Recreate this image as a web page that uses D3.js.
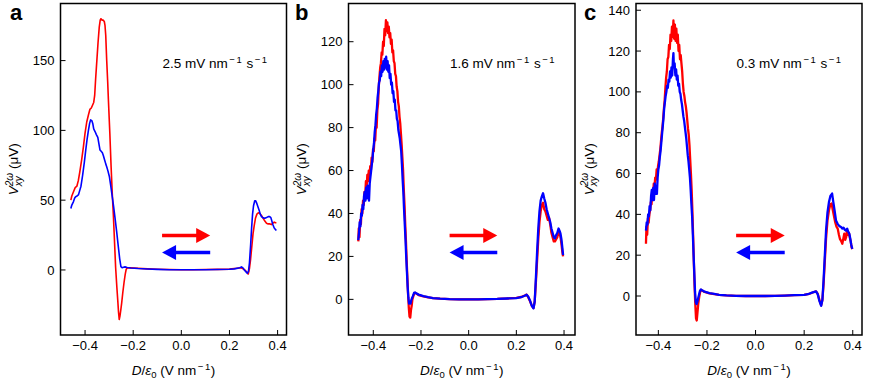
<!DOCTYPE html>
<html>
<head>
<meta charset="utf-8">
<script src="https://cdn.jsdelivr.net/npm/d3@7"></script>
<style>
  body { margin: 0; background: #fff; }
  svg { display: block; font-family: "Liberation Sans", Arial, sans-serif; }
</style>
</head>
<body>
<svg width="871" height="381"></svg>
<script>
// values: [D/eps0 (V/nm), V (uV)]
const aRed = [[-0.459,50],[-0.455,53],[-0.448,56],[-0.441,59],[-0.434,60],[-0.428,64],[-0.422,70],[-0.414,79],[-0.407,88],[-0.4,98],[-0.393,106],[-0.386,111],[-0.38,115],[-0.374,116],[-0.369,118],[-0.364,120],[-0.36,125],[-0.356,137],[-0.351,150],[-0.346,163],[-0.341,174],[-0.337,179],[-0.334,180],[-0.329,179],[-0.325,179],[-0.32,178],[-0.317,175],[-0.314,168],[-0.31,150],[-0.306,135],[-0.303,122],[-0.297,98],[-0.292,75],[-0.287,55],[-0.282,38],[-0.277,18],[-0.273,2],[-0.268,-12],[-0.264,-22],[-0.261,-30],[-0.258,-35.5],[-0.255,-33],[-0.251,-28],[-0.248,-24],[-0.243,-16],[-0.238,-9],[-0.233,-3],[-0.229,0.5],[-0.224,1.5],[-0.21,1.6],[-0.18,1.2],[-0.14,0.8],[-0.1,0.5],[-0.05,0.3],[0,0.2],[0.05,0.2],[0.1,0.3],[0.15,0.4],[0.2,0.6],[0.23,1.2],[0.245,1.6],[0.255,1],[0.264,0],[0.272,-1.5],[0.278,-2.9],[0.283,1],[0.288,8],[0.293,17],[0.298,26],[0.303,32],[0.308,37],[0.314,40],[0.32,41],[0.326,40.5],[0.333,39],[0.34,37],[0.347,35],[0.354,33.5],[0.361,33],[0.368,33],[0.375,32.5],[0.38,33.5],[0.386,34.3],[0.391,33.8],[0.395,33.8]];
const aBlue = [[-0.459,44],[-0.455,46.5],[-0.448,49],[-0.443,51.5],[-0.439,52.5],[-0.433,53],[-0.427,54],[-0.422,57],[-0.417,60],[-0.41,68],[-0.403,77],[-0.397,86],[-0.392,93],[-0.386,100],[-0.381,105],[-0.377,107.5],[-0.372,107],[-0.368,105],[-0.364,101],[-0.358,99],[-0.353,97],[-0.347,95],[-0.342,90],[-0.338,86],[-0.333,85],[-0.328,84],[-0.324,82],[-0.319,79],[-0.314,76],[-0.31,74],[-0.305,71],[-0.299,67],[-0.293,60],[-0.287,52.5],[-0.281,45],[-0.276,38],[-0.269,28],[-0.262,17],[-0.256,8],[-0.251,2.4],[-0.246,1.6],[-0.24,2],[-0.234,2.2],[-0.225,1.8],[-0.21,1.4],[-0.18,1],[-0.14,0.7],[-0.1,0.4],[-0.05,0.2],[0,0.1],[0.05,0.1],[0.1,0.2],[0.15,0.3],[0.2,0.5],[0.22,0.8],[0.235,1.3],[0.243,1.6],[0.25,2.2],[0.256,1.5],[0.262,0],[0.268,-1.2],[0.274,-2.4],[0.279,-1],[0.283,5],[0.288,18],[0.292,30],[0.296,40],[0.3,46],[0.305,49.6],[0.309,49.5],[0.314,47.5],[0.319,45],[0.323,43],[0.328,40],[0.333,38.2],[0.34,37.3],[0.347,37],[0.354,37.5],[0.361,38.2],[0.367,38.2],[0.372,37.5],[0.377,34.5],[0.381,32.2],[0.386,30],[0.391,29],[0.395,28.2]];

const bRed = [[-0.463,27],[-0.461,33],[-0.458,29],[-0.455,37],[-0.452,35],[-0.449,42],[-0.446,40],[-0.443,46],[-0.44,44],[-0.437,50],[-0.434,48],[-0.431,55],[-0.428,52],[-0.425,58],[-0.422,55],[-0.419,60],[-0.416,56],[-0.413,62],[-0.41,60],[-0.407,66],[-0.404,64],[-0.401,70],[-0.398,69],[-0.395,75],[-0.392,74],[-0.389,81],[-0.386,80],[-0.383,88],[-0.38,91],[-0.377,99],[-0.374,104],[-0.371,108],[-0.368,110],[-0.365,115],[-0.362,114],[-0.359,120],[-0.356,118],[-0.353,126],[-0.35,123],[-0.347,130],[-0.344,125],[-0.341,129],[-0.338,124],[-0.335,127],[-0.332,122],[-0.329,124],[-0.326,119],[-0.323,121],[-0.32,115],[-0.317,116],[-0.314,111],[-0.311,110],[-0.308,105],[-0.305,104],[-0.302,99],[-0.299,97],[-0.296,92],[-0.293,90],[-0.29,85],[-0.287,82],[-0.284,77],[-0.281,72],[-0.278,66],[-0.275,60],[-0.272,51],[-0.269,44],[-0.266,35],[-0.263,27],[-0.26,18],[-0.257,10],[-0.254,2],[-0.251,-4],[-0.248,-8],[-0.245,-8.5],[-0.242,-5],[-0.239,-3],[-0.236,0],[-0.232,1.5],[-0.228,2.8],[-0.224,3],[-0.22,2.7],[-0.21,2],[-0.19,1.4],[-0.17,0.9],[-0.15,0.6],[-0.12,0.3],[-0.08,0.1],[-0.04,0],[0,0],[0.04,0],[0.08,0.1],[0.12,0.2],[0.16,0.4],[0.2,0.7],[0.22,1.1],[0.235,1.8],[0.243,2.2],[0.25,1],[0.258,-1],[0.265,-3],[0.272,-4],[0.277,-1],[0.282,8],[0.287,18],[0.292,28],[0.297,36],[0.302,41],[0.307,44],[0.312,45],[0.317,42],[0.322,41],[0.327,39],[0.332,37],[0.337,38],[0.342,35],[0.347,31],[0.352,29],[0.357,27],[0.362,27],[0.367,28],[0.372,29],[0.377,32],[0.381,31],[0.385,29],[0.389,26],[0.393,22],[0.396,20]];
const bBlue = [[-0.463,27.6],[-0.46,31],[-0.457,36],[-0.454,34],[-0.451,40],[-0.448,39],[-0.445,44],[-0.442,42],[-0.439,48],[-0.436,50],[-0.433,46],[-0.43,52],[-0.427,47],[-0.424,53],[-0.421,50],[-0.418,46],[-0.415,54],[-0.412,57],[-0.409,60],[-0.406,63],[-0.403,66],[-0.4,70],[-0.397,73],[-0.394,78],[-0.391,81],[-0.388,86],[-0.385,89],[-0.382,94],[-0.379,97],[-0.376,101],[-0.373,102],[-0.37,106],[-0.367,104],[-0.364,109],[-0.361,106],[-0.358,111],[-0.355,107],[-0.352,112],[-0.349,108],[-0.346,113],[-0.343,107],[-0.34,111],[-0.337,106],[-0.334,109],[-0.331,103],[-0.328,105],[-0.325,100],[-0.322,101],[-0.319,96],[-0.316,97],[-0.313,92],[-0.31,93],[-0.307,88],[-0.304,88],[-0.301,84],[-0.298,83],[-0.295,79],[-0.292,77],[-0.289,75],[-0.286,72],[-0.283,69],[-0.28,63],[-0.277,56],[-0.274,50],[-0.271,42],[-0.268,35],[-0.265,28],[-0.262,20],[-0.259,13],[-0.256,6],[-0.253,1],[-0.25,-2],[-0.247,-1.5],[-0.244,-2],[-0.241,-0.5],[-0.238,0.5],[-0.234,1.5],[-0.229,3],[-0.225,3.2],[-0.22,2.8],[-0.21,2.2],[-0.19,1.5],[-0.17,1],[-0.15,0.6],[-0.12,0.3],[-0.08,0.1],[-0.04,0],[0,0],[0.04,0],[0.08,0.1],[0.12,0.2],[0.16,0.4],[0.2,0.6],[0.22,1],[0.235,1.7],[0.243,2.2],[0.25,1.2],[0.258,-0.8],[0.265,-3],[0.272,-4.2],[0.277,-1],[0.282,10],[0.287,22],[0.292,33],[0.297,41],[0.302,46],[0.307,48],[0.312,49.4],[0.317,47],[0.322,45],[0.327,42],[0.332,40],[0.337,38],[0.342,36],[0.347,33],[0.352,31],[0.357,29],[0.362,28.4],[0.367,30],[0.372,31],[0.377,33],[0.381,32],[0.385,30.7],[0.389,28],[0.393,24],[0.396,20.6]];

const cRed = [[-0.451,25.6],[-0.449,34],[-0.446,30],[-0.443,38],[-0.44,36],[-0.437,40],[-0.434,42],[-0.431,46],[-0.428,45],[-0.425,50],[-0.422,49],[-0.419,55],[-0.416,53],[-0.413,58],[-0.41,57],[-0.407,62],[-0.404,60],[-0.401,64],[-0.398,66],[-0.395,69],[-0.392,72],[-0.389,76],[-0.386,80],[-0.383,83],[-0.38,87],[-0.377,92],[-0.374,96],[-0.371,102],[-0.368,107],[-0.365,110],[-0.362,116],[-0.359,117],[-0.356,123],[-0.353,121],[-0.35,128],[-0.347,125],[-0.344,132],[-0.341,127],[-0.338,135],[-0.335,126],[-0.332,133],[-0.329,125],[-0.326,131],[-0.323,124],[-0.32,128],[-0.317,120],[-0.314,123],[-0.311,116],[-0.308,118],[-0.305,114],[-0.302,110],[-0.299,104],[-0.296,100],[-0.293,98],[-0.29,95],[-0.287,93],[-0.284,90],[-0.281,86],[-0.278,82],[-0.275,79],[-0.272,74],[-0.269,67],[-0.266,60],[-0.263,52],[-0.26,42],[-0.257,30],[-0.254,17],[-0.251,5],[-0.248,-4],[-0.245,-11],[-0.242,-12],[-0.239,-8],[-0.236,-4],[-0.232,-0.5],[-0.228,2],[-0.224,3],[-0.22,2.7],[-0.21,2],[-0.19,1.3],[-0.17,0.9],[-0.15,0.6],[-0.12,0.3],[-0.08,0.1],[-0.04,0],[0,0],[0.04,0],[0.08,0.1],[0.12,0.2],[0.16,0.4],[0.2,0.6],[0.22,1],[0.235,1.7],[0.249,2.3],[0.256,1],[0.263,-2],[0.27,-4.5],[0.275,-2],[0.28,6],[0.285,17],[0.29,28],[0.296,37],[0.302,42],[0.308,45],[0.313,45.3],[0.318,42],[0.323,39],[0.328,36],[0.333,34],[0.338,33],[0.343,30],[0.347,28],[0.352,27],[0.357,25.6],[0.361,28],[0.365,30.5],[0.369,27.5],[0.373,29],[0.376,32],[0.38,30],[0.384,31],[0.387,29],[0.391,27],[0.395,24],[0.398,23]];
const cBlue = [[-0.451,32],[-0.448,36],[-0.445,35],[-0.442,40],[-0.439,39],[-0.436,44],[-0.433,42],[-0.43,49],[-0.427,52],[-0.424,47],[-0.421,53],[-0.418,47],[-0.415,55],[-0.412,50],[-0.409,54],[-0.406,50],[-0.403,58],[-0.4,62],[-0.397,64],[-0.394,68],[-0.391,71],[-0.388,75],[-0.385,79],[-0.382,83],[-0.379,87],[-0.376,92],[-0.373,95],[-0.37,98],[-0.367,100],[-0.364,103],[-0.361,102],[-0.358,106],[-0.355,105],[-0.352,110],[-0.349,107],[-0.346,112],[-0.343,108],[-0.34,116],[-0.338,119],[-0.336,112],[-0.333,114],[-0.33,108],[-0.327,111],[-0.324,106],[-0.321,108],[-0.318,103],[-0.315,104],[-0.312,100],[-0.309,99],[-0.306,96],[-0.303,94],[-0.3,91],[-0.297,88],[-0.294,86],[-0.291,83],[-0.288,80],[-0.285,77],[-0.282,73],[-0.279,69],[-0.276,66],[-0.273,62],[-0.27,58],[-0.267,52],[-0.264,45],[-0.261,39],[-0.258,30],[-0.255,20],[-0.252,11],[-0.249,2],[-0.246,-3],[-0.243,-4],[-0.24,-3],[-0.237,-1.5],[-0.233,0.5],[-0.229,2.5],[-0.225,3.2],[-0.22,2.8],[-0.21,2.1],[-0.19,1.4],[-0.17,1],[-0.15,0.6],[-0.12,0.3],[-0.08,0.1],[-0.04,0],[0,0],[0.04,0],[0.08,0.1],[0.12,0.2],[0.16,0.4],[0.2,0.6],[0.22,1.1],[0.235,1.8],[0.249,2.3],[0.256,0.8],[0.263,-2.5],[0.27,-4.8],[0.275,-2],[0.28,8],[0.285,20],[0.29,32],[0.296,41],[0.302,46],[0.308,49],[0.315,50.2],[0.32,46],[0.325,42],[0.331,37],[0.337,35.5],[0.343,34.5],[0.348,34],[0.352,33.8],[0.357,33],[0.362,33.5],[0.367,32.5],[0.372,32.1],[0.377,33],[0.381,31.5],[0.386,30.5],[0.39,28],[0.394,25],[0.398,23.1]];

const panelLetters = ["a", "b", "c"];
const sweepRates = ["2.5", "1.6", "0.3"];
const xTicks = [-0.4, -0.2, 0, 0.2, 0.4];
const yTicksA = [0, 50, 100, 150];
const yTicksB = [0, 20, 40, 60, 80, 100, 120];
const yTicksC = [0, 20, 40, 60, 80, 100, 120, 140];
const arrowSpan = [-0.08, 0.12];   // D/eps0 range covered by the arrows

let svg = d3.select("svg");
const axTop = 3.5, axBottom = 335;

const panels = [
  { red: aRed, blue: aBlue, yTicks: yTicksA, xDom: [-0.502, 0.437], yDom: [-46.6, 190.9], left: 60.5, right: 286.5, lw: 1.6 },
  { red: bRed, blue: bBlue, yTicks: yTicksB, xDom: [-0.504, 0.446], yDom: [-16.6, 137.8], left: 348.5, right: 575, lw: 2.3 },
  { red: cRed, blue: cBlue, yTicks: yTicksC, xDom: [-0.492, 0.438], yDom: [-19.1, 143.3], left: 636, right: 862, lw: 2.3 },
];

const fmtX = d3.format(".1f");

// mathtext-like "^{-1}" : minus, small gap, 1
function supMinusOne(sel, size, back) {
  sel.append("tspan").attr("font-size", size).attr("dx", 1.5).attr("dy", -5).text("−");
  sel.append("tspan").attr("font-size", size).attr("dx", 1.5).text("1");
  return sel.append("tspan").attr("dy", 5).attr("dx", 1);
}

panels.forEach((p, i) => {
  let x = d3.scaleLinear().domain(p.xDom).range([p.left, p.right]);
  let y = d3.scaleLinear().domain(p.yDom).range([axBottom, axTop]);
  let fy = d3.scaleLinear().domain([0, 1]).range([axTop, axBottom]); // axes fraction from top

  let g = svg.append("g");

  let line = d3.line().x((d) => x(d[0])).y((d) => y(d[1]));

  // curves: red under blue
  [["red", p.red], ["blue", p.blue]].forEach(([col, data]) => {
    g.append("path")
      .attr("d", line(data))
      .attr("fill", "none")
      .attr("stroke", col === "red" ? "#ff0000" : "#0000ff")
      .attr("stroke-width", p.lw)
      .attr("stroke-linejoin", "round");
  });

  // frame
  g.append("rect")
    .attr("x", p.left).attr("y", axTop)
    .attr("width", p.right - p.left).attr("height", axBottom - axTop)
    .attr("fill", "none").attr("stroke", "#000").attr("stroke-width", 1.5);

  // x ticks (inward)
  xTicks.forEach((t) => {
    g.append("line")
      .attr("x1", x(t)).attr("x2", x(t))
      .attr("y1", axBottom).attr("y2", axBottom - 5)
      .attr("stroke", "#000").attr("stroke-width", 1);
    g.append("text")
      .attr("x", x(t)).attr("y", 349.5)
      .attr("text-anchor", "middle")
      .attr("font-size", 13)
      .text(fmtX(t));
  });

  // y ticks (inward)
  p.yTicks.forEach((t) => {
    g.append("line")
      .attr("x1", p.left).attr("x2", p.left + 5)
      .attr("y1", y(t)).attr("y2", y(t))
      .attr("stroke", "#000").attr("stroke-width", 1);
    g.append("text")
      .attr("x", p.left - 6).attr("y", y(t) + 4.6)
      .attr("text-anchor", "end")
      .attr("font-size", 13)
      .text(t);
  });

  // x label
  let xl = g.append("text")
    .attr("x", (p.left + p.right) / 2).attr("y", 374.5)
    .attr("text-anchor", "middle")
    .attr("font-size", 13.5);
  xl.append("tspan").attr("font-style", "italic").text("D");
  xl.append("tspan").text("/");
  xl.append("tspan").attr("font-style", "italic").text("ε");
  xl.append("tspan").attr("font-size", 9.5).attr("dy", 3).text("0");
  xl.append("tspan").attr("dy", -3).text(" (V nm");
  supMinusOne(xl, 9.5).attr("dx", 0.5).text(")");

  // y label
  let yl = g.append("text")
    .attr("transform", `translate(${p.left - 42.5},${(axTop + axBottom) / 2}) rotate(-90)`)
    .attr("text-anchor", "middle")
    .attr("font-size", 13.5);
  yl.append("tspan").attr("font-style", "italic").text("V");
  let sup = yl.append("tspan").attr("font-style", "italic").attr("font-size", 10).attr("dy", -5.5).text("2ω");
  let supW = sup.node().getComputedTextLength();
  let sub = yl.append("tspan").attr("font-style", "italic").attr("font-size", 10)
    .attr("dx", -supW).attr("dy", 9).text("xy");
  let subW = sub.node().getComputedTextLength();
  yl.append("tspan").attr("dx", Math.max(0, supW - subW)).attr("dy", -3.5).text(" (μV)");

  // panel letter
  g.append("text")
    .attr("x", [10, 295, 584][i]).attr("y", 20)
    .attr("font-size", 22).attr("font-weight", "bold")
    .text(panelLetters[i]);

  // sweep rate
  let st = g.append("text")
    .attr("x", x(-0.078)).attr("y", fy(0.195))
    .attr("font-size", 13.5);
  st.append("tspan").text(sweepRates[i] + " mV nm");
  let rest = supMinusOne(st, 9.5);
  rest.text(" s");
  supMinusOne(st, 9.5);

  // sweep direction arrows
  const headL = 14, headW = 7.5, shaftW = 3.6;
  let x0 = x(arrowSpan[0]), x1 = x(arrowSpan[1]);
  let yr = fy(0.70), yb = fy(0.751);
  g.append("line")
    .attr("x1", x0).attr("x2", x1 - headL + 1)
    .attr("y1", yr).attr("y2", yr)
    .attr("stroke", "#ff0000").attr("stroke-width", shaftW);
  g.append("path")
    .attr("d", `M${x1},${yr} L${x1 - headL},${yr - headW} L${x1 - headL},${yr + headW} Z`)
    .attr("fill", "#ff0000");
  g.append("line")
    .attr("x1", x1).attr("x2", x0 + headL - 1)
    .attr("y1", yb).attr("y2", yb)
    .attr("stroke", "#0000ff").attr("stroke-width", shaftW);
  g.append("path")
    .attr("d", `M${x0},${yb} L${x0 + headL},${yb - headW} L${x0 + headL},${yb + headW} Z`)
    .attr("fill", "#0000ff");
});
</script>
</body>
</html>
